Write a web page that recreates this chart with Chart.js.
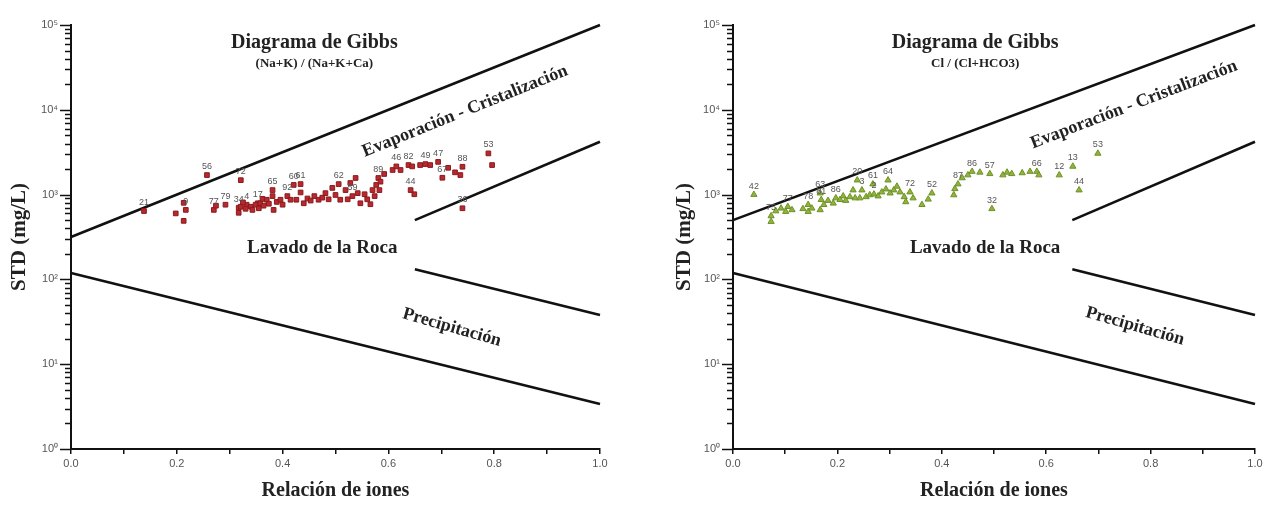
<!DOCTYPE html>
<html>
<head>
<meta charset="utf-8">
<script src="https://cdn.jsdelivr.net/npm/chart.js@4.4.1/dist/chart.umd.min.js"></script>
<style>
  html, body { margin: 0; padding: 0; background: #fff; }
  .panel { position: absolute; top: 0; width: 635px; height: 506px; }
  #leftPanel { left: 0; }
  #rightPanel { left: 635px; }
</style>
</head>
<body>
<div class="panel" id="leftPanel"><canvas id="leftChart" width="635" height="506"></canvas></div>
<div class="panel" id="rightPanel"><canvas id="rightChart" width="635" height="506"></canvas></div>
<script>
// --- data ---
// left: (Na+K)/(Na+K+Ca) vs STD
const leftRatio = [
  0.138, 0.198, 0.213, 0.217, 0.213, 0.257, 0.321, 0.270, 0.274, 0.292,
  0.317, 0.317, 0.332, 0.353, 0.321, 0.325, 0.330, 0.340, 0.343, 0.349,
  0.355, 0.358, 0.362, 0.364, 0.370, 0.374, 0.381, 0.381, 0.383, 0.389,
  0.396, 0.400, 0.409, 0.415, 0.421, 0.434, 0.426, 0.434, 0.440, 0.447,
  0.453, 0.460, 0.468, 0.475, 0.481, 0.487, 0.494, 0.500, 0.506, 0.509,
  0.519, 0.523, 0.528, 0.532, 0.538, 0.542, 0.547, 0.555, 0.560, 0.566,
  0.570, 0.574, 0.577, 0.581, 0.583, 0.585, 0.592, 0.608, 0.615, 0.623,
  0.638, 0.645, 0.660, 0.670, 0.679, 0.694, 0.702, 0.713, 0.726, 0.736,
  0.740, 0.642, 0.649, 0.740, 0.789, 0.796
];
const leftStd = [
  640, 600, 800, 660, 490, 1700, 1480, 660, 740, 760,
  700, 610, 760, 790, 720, 810, 680, 720, 660, 760,
  690, 790, 890, 740, 870, 780, 1130, 960, 660, 820,
  870, 760, 960, 870, 1300, 1330, 870, 1060, 790, 900,
  850, 960, 870, 920, 1040, 880, 1200, 990, 1330, 870,
  1130, 880, 1370, 960, 1570, 1040, 790, 1010, 880, 770,
  1130, 960, 1300, 1570, 1130, 1420, 1750, 1950, 2150, 1950,
  2230, 2150, 2230, 2290, 2230, 2430, 1580, 2070, 1830, 1700,
  2130, 1130, 1010, 690, 3060, 2230
];
const leftIds = [
  '21', '', '', '9', '', '56', '72', '77', '', '79',
  '34', '', '4', '17', '', '', '', '', '', '',
  '', '', '', '', '', '', '65', '', '', '',
  '', '', '92', '', '60', '61', '', '', '', '',
  '', '', '', '', '', '', '', '', '62', '',
  '', '', '', '59', '', '', '', '', '', '',
  '', '', '', '89', '', '', '', '', '46', '',
  '82', '', '', '49', '', '47', '67', '', '', '',
  '88', '44', '', '36', '53', ''
];

// right: Cl/(Cl+HCO3) vs STD
const rightRatio = [
  0.040, 0.073, 0.073, 0.082, 0.092, 0.105, 0.101, 0.113, 0.134, 0.144,
  0.144, 0.151, 0.167, 0.169, 0.167, 0.174, 0.182, 0.192, 0.197, 0.205,
  0.211, 0.216, 0.224, 0.230, 0.234, 0.238, 0.243, 0.247, 0.255, 0.262,
  0.268, 0.270, 0.278, 0.285, 0.293, 0.297, 0.301, 0.308, 0.314, 0.320,
  0.328, 0.331, 0.339, 0.345, 0.362, 0.374, 0.381, 0.423, 0.425, 0.431,
  0.439, 0.450, 0.458, 0.473, 0.492, 0.496, 0.517, 0.525, 0.534, 0.554,
  0.569, 0.582, 0.586, 0.625, 0.651, 0.663, 0.699
];
const rightStd = [
  1000, 560, 480, 640, 690, 720, 630, 660, 680, 760,
  630, 690, 1040, 870, 660, 760, 850, 790, 910, 870,
  960, 850, 940, 1130, 910, 1480, 910, 1130, 940, 990,
  1330, 1010, 960, 1070, 1160, 1480, 1040, 1130, 1250, 1070,
  940, 820, 1070, 910, 760, 880, 1040, 990, 1170, 1330,
  1570, 1700, 1870, 1830, 1760, 680, 1700, 1830, 1760, 1800,
  1870, 1870, 1700, 1700, 2150, 1130, 3060
];
const rightIds = [
  '42', '75', '', '', '', '77', '', '', '', '78',
  '', '', '63', '81', '', '', '', '', '86', '',
  '', '', '', '', '', '20', '', '3', '', '',
  '61', '2', '', '', '', '64', '', '', '', '',
  '', '', '72', '', '', '', '52', '', '', '87',
  '', '', '86', '', '57', '32', '', '', '', '',
  '', '66', '', '12', '13', '44', '53'
];

// Gibbs boundary lines
const evapLineX = [0, 1];
const evapLineLeftY = [316, 100000];
const evapLineRightY = [500, 100000];
const rockLineX = [0.65, 1];
const rockLineY = [500, 4200];
const precipLineX = [0.65, 1];
const precipLineY = [132, 38];
const baseLineX = [0, 1];
const baseLineY = [119, 3.4];

// ticks
const yTickValues = [];
[1, 10, 100, 1000, 10000].forEach(d => { for (let k = 1; k < 10; k++) yTickValues.push(d * k); });
yTickValues.push(100000);
const yTickLabels = { 1: '10\u2070', 10: '10\u00b9', 100: '10\u00b2', 1000: '10\u00b3', 10000: '10\u2074', 100000: '10\u2075' };
const xTickLabels = ['0.0', '', '0.2', '', '0.4', '', '0.6', '', '0.8', '', '1.0'];

const SERIF = '"Liberation Serif", "Times New Roman", serif';
const SANS = '"Liberation Sans", Arial, sans-serif';

function pts(xs, ys) {
  return xs.map((x, i) => ({ x: x, y: ys[i] }));
}

function lineSet(xs, ys) {
  return {
    data: pts(xs, ys), showLine: true, pointRadius: 0, borderColor: '#111',
    borderWidth: 2.6, fill: false, clip: false
  };
}

// small number tags above points + free text in the plot
const labelPlugin = {
  id: 'labelPlugin',
  afterDatasetsDraw(chart) {
    const ctx = chart.ctx;
    const o = chart.options.plugins.labelPlugin;
    const meta = chart.getDatasetMeta(0);
    ctx.save();
    ctx.fillStyle = '#555';
    ctx.font = '9px ' + SANS;
    ctx.textAlign = 'center';
    ctx.textBaseline = 'bottom';
    o.ids.forEach((t, i) => {
      if (!t) return;
      const p = meta.data[i];
      ctx.fillText(t, p.x, p.y - 4);
    });
    const xs = chart.scales.x, ys = chart.scales.y;
    o.texts.forEach(t => {
      ctx.save();
      ctx.translate(xs.getPixelForValue(t.x), ys.getPixelForValue(t.y));
      ctx.rotate(t.rot * Math.PI / 180);
      ctx.fillStyle = '#222';
      ctx.font = 'bold ' + t.size + 'px ' + SERIF;
      ctx.textAlign = 'center';
      ctx.textBaseline = 'middle';
      ctx.fillText(t.text, 0, 0);
      ctx.restore();
    });
    // y axis ticks: long at decades, short in between
    ctx.strokeStyle = '#111';
    ctx.lineWidth = 1.5;
    const left = chart.chartArea.left;
    ys.ticks.forEach(tk => {
      const y = Math.round(ys.getPixelForValue(tk.value)) + 0.5;
      const len = yTickLabels[tk.value] ? 11 : 6;
      ctx.beginPath();
      ctx.moveTo(left, y);
      ctx.lineTo(left - len, y);
      ctx.stroke();
    });
    ctx.restore();
  }
};

function makeChart(id, cfg) {
  return new Chart(document.getElementById(id), {
    type: 'scatter',
    data: {
      datasets: [
        {
          data: pts(cfg.xs, cfg.ys), pointStyle: cfg.marker, pointRadius: cfg.radius,
          backgroundColor: cfg.fill, borderColor: cfg.edge, borderWidth: 1
        },
        lineSet(evapLineX, cfg.evapY),
        lineSet(rockLineX, rockLineY),
        lineSet(precipLineX, precipLineY),
        lineSet(baseLineX, baseLineY)
      ]
    },
    options: {
      responsive: false,
      animation: false,
      layout: { padding: { left: 0, right: cfg.padRight, top: 25, bottom: 0 } },
      plugins: {
        legend: { display: false },
        tooltip: { enabled: false },
        labelPlugin: { ids: cfg.ids, texts: cfg.texts }
      },
      scales: {
        x: {
          type: 'linear', min: 0, max: 1,
          border: { color: '#111', width: 2 },
          grid: { drawOnChartArea: false, drawTicks: true, tickLength: 5, color: '#111', lineWidth: 1.5 },
          ticks: {
            stepSize: 0.1, autoSkip: false, maxRotation: 0, padding: 3,
            color: '#555', font: { family: SANS, size: 11 },
            callback: (v, i) => xTickLabels[i]
          },
          title: {
            display: true, text: 'Relación de iones', color: '#222',
            font: { family: SERIF, size: 20, weight: 'bold' }, padding: { top: 0, bottom: 3 }
          },
          afterFit: s => { s.height = 57; }
        },
        y: {
          type: 'logarithmic', min: 1, max: 100000,
          border: { color: '#111', width: 2 },
          grid: { drawOnChartArea: false, drawTicks: false },
          afterBuildTicks: s => { s.ticks = yTickValues.map(v => ({ value: v })); },
          ticks: {
            autoSkip: false, padding: 13, color: '#555',
            font: { family: SANS, size: 11 },
            callback: v => yTickLabels[v] || ''
          },
          title: {
            display: true, text: 'STD (mg/L)', color: '#222',
            font: { family: SERIF, size: 21, weight: 'bold' }, padding: { top: cfg.titlePad, bottom: 0 }
          },
          afterFit: s => { s.width = cfg.yWidth; }
        }
      }
    },
    plugins: [labelPlugin]
  });
}

makeChart('leftChart', {
  xs: leftRatio, ys: leftStd, ids: leftIds, evapY: evapLineLeftY,
  marker: 'rect', radius: 3.3, fill: '#b8282e', edge: '#8a1a1d',
  padRight: 35, yWidth: 71, titlePad: 7,
  texts: [
    { text: 'Diagrama de Gibbs', x: 0.46, y: 62000, rot: 0, size: 20 },
    { text: '(Na+K) / (Na+K+Ca)', x: 0.46, y: 35000, rot: 0, size: 13 },
    { text: 'Evaporación - Cristalización', x: 0.745, y: 9600, rot: -22, size: 18 },
    { text: 'Lavado de la Roca', x: 0.475, y: 234, rot: 0, size: 19 },
    { text: 'Precipitación', x: 0.72, y: 27, rot: 16, size: 18 }
  ]
});

makeChart('rightChart', {
  xs: rightRatio, ys: rightStd, ids: rightIds, evapY: evapLineRightY,
  marker: 'triangle', radius: 3.6, fill: '#8fb43e', edge: '#6f9127',
  padRight: 15, yWidth: 98, titlePad: 37,
  texts: [
    { text: 'Diagrama de Gibbs', x: 0.464, y: 62000, rot: 0, size: 20 },
    { text: 'Cl / (Cl+HCO3)', x: 0.464, y: 35000, rot: 0, size: 13 },
    { text: 'Evaporación - Cristalización', x: 0.768, y: 11500, rot: -21, size: 18 },
    { text: 'Lavado de la Roca', x: 0.483, y: 234, rot: 0, size: 19 },
    { text: 'Precipitación', x: 0.77, y: 28, rot: 16, size: 18 }
  ]
});
</script>
</body>
</html>
